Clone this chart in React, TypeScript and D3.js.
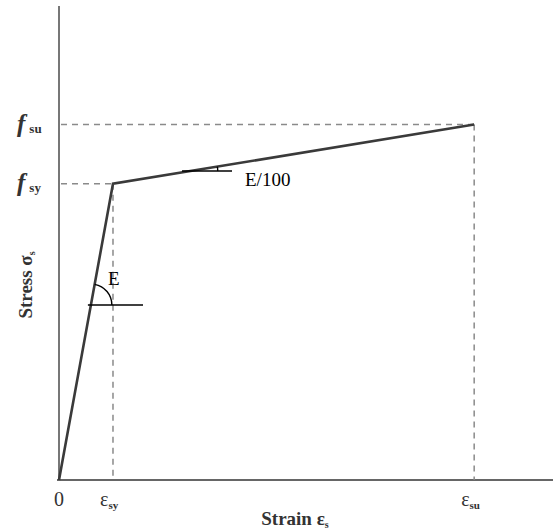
import React from "react";
import * as d3 from "d3";

// schematic strain values (units of yield strain) and stresses (units of fsy)
const strainKeys = ["0", "sy", "su"];
const strainVals = [0, 1, 7.69];
const stressKeys = ["0", "sy", "su"];
const stressVals = [0, 1, 1.2];
const xTickLabels = ["0", "ε|sy", "ε|su"];
const yTickLabels = ["f|sy", "f|su"];

const W = 553;
const H = 531;

const App = () => {
  const x = d3.scaleLinear().domain([0, 9.15]).range([59, 553]);
  const y = d3.scaleLinear().domain([0, 1.6]).range([480, 6]);

  const pts: [number, number][] = strainVals.map((s, i) => [s, stressVals[i]]);
  const line = d3
    .line<[number, number]>()
    .x((d) => x(d[0]))
    .y((d) => y(d[1]));

  // E angle mark
  const eY = 305;
  const eX = x((y.invert(eY) / stressVals[1]) * strainVals[1]);
  const angE = Math.atan2(y(0) - y(1), x(1) - x(0));
  const arcE = d3.arc()({
    innerRadius: 21,
    outerRadius: 21,
    startAngle: Math.PI / 2 - angE,
    endAngle: Math.PI / 2,
  } as any);

  // E/100 mark
  const hY = 171;
  const slopeH = (y(stressVals[1]) - y(stressVals[2])) / (x(strainVals[2]) - x(strainVals[1]));
  const hX = x(strainVals[1]) + (y(stressVals[1]) - hY) / slopeH;
  const angH = Math.atan(slopeH);
  const arcH = d3.arc()({
    innerRadius: 27,
    outerRadius: 27,
    startAngle: Math.PI / 2 - angH,
    endAngle: Math.PI / 2,
  } as any);

  const dash = "6,5";
  const grey = "#8a8a8a";

  return (
    <svg width={W} height={H} style={{ position: "absolute", left: 0, top: 0 }}>
      <rect width={W} height={H} fill="#fff" />
      {/* axes */}
      <line x1={x(0)} x2={x(0)} y1={y(1.6)} y2={y(0) + 1} stroke="#777" strokeWidth={2} />
      <line x1={x(0) - 2} x2={553} y1={y(0)} y2={y(0)} stroke="#666" strokeWidth={2} />

      {/* dashed guides */}
      {[1, 2].map((i) => (
        <g key={stressKeys[i]}>
          <line
            x1={x(0) + 2}
            x2={x(strainVals[i])}
            y1={y(stressVals[i])}
            y2={y(stressVals[i])}
            stroke={grey}
            strokeWidth={1.5}
            strokeDasharray={dash}
          />
          <line
            x1={x(strainVals[i])}
            x2={x(strainVals[i])}
            y1={y(stressVals[i])}
            y2={y(0)}
            stroke={grey}
            strokeWidth={1.5}
            strokeDasharray={dash}
          />
        </g>
      ))}

      {/* stress-strain curve */}
      <path d={line(pts) || ""} fill="none" stroke="#3a3a3a" strokeWidth={2.6} strokeLinejoin="miter" />

      {/* E annotation */}
      <line x1={eX - 3} x2={143} y1={eY} y2={eY} stroke="#000" strokeWidth={1.4} />
      <path d={arcE || ""} transform={`translate(${eX},${eY})`} fill="none" stroke="#000" strokeWidth={1.4} />
      <text x={108} y={285} fontFamily="Liberation Serif" fontSize={19} fill="#000">E</text>

      {/* E/100 annotation */}
      <line x1={182} x2={232} y1={hY} y2={hY} stroke="#000" strokeWidth={1.4} />
      <path d={arcH || ""} transform={`translate(${hX},${hY})`} fill="none" stroke="#000" strokeWidth={1.4} />
      <text x={245} y={186} fontFamily="Liberation Serif" fontSize={19} fill="#000">E/100</text>

      {/* x tick labels */}
      {xTickLabels.map((t, i) => {
        const [m, sub] = t.split("|");
        return (
          <text
            key={strainKeys[i]}
            x={x(strainVals[i]) + (i === 0 ? -5 : -13)}
            y={506}
            fontFamily="Liberation Serif"
            fontSize={20}
            fill="#333"
          >
            {m}
            {sub && (
              <tspan fontSize={11} fontWeight="bold" dy={3}>
                {sub}
              </tspan>
            )}
          </text>
        );
      })}

      {/* y tick labels */}
      {yTickLabels.map((t, i) => {
        const [m, sub] = t.split("|");
        return (
          <text
            key={t}
            x={17}
            y={y(stressVals[i + 1]) + 7}
            fontFamily="Liberation Serif"
            fontSize={25}
            fontStyle="italic"
            fontWeight="bold"
            fill="#333"
          >
            {m}
            <tspan fontSize={13} fontStyle="normal" dx={4} dy={1}>
              {sub}
            </tspan>
          </text>
        );
      })}

      {/* axis titles */}
      <text x={295} y={525} textAnchor="middle" fontFamily="Liberation Serif" fontWeight="bold" fontSize={19} fill="#333">
        Strain ε<tspan fontSize={10} dy={3}>s</tspan>
      </text>
      <text
        transform="translate(32,285) rotate(-90)"
        textAnchor="middle"
        fontFamily="Liberation Serif"
        fontWeight="bold"
        fontSize={19}
        fill="#333"
      >
        Stress σ<tspan fontSize={10} dy={3}>s</tspan>
      </text>
    </svg>
  );
};

export default App;
